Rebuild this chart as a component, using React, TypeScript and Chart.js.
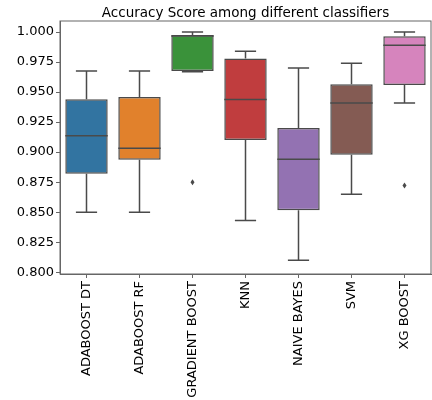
import React, { useEffect, useRef } from "react";
import { Chart, registerables } from "chart.js";

Chart.register(...registerables);

const title = "Accuracy Score among different classifiers";
const categories = ["ADABOOST DT", "ADABOOST RF", "GRADIENT BOOST", "KNN", "NAIVE BAYES", "SVM", "XG BOOST"];
const whiskerLow = [0.850, 0.850, 0.967, 0.843, 0.810, 0.865, 0.941];
const q1 = [0.882, 0.8936, 0.9676, 0.910, 0.8515, 0.8978, 0.956];
const median = [0.9136, 0.9033, 0.9967, 0.9438, 0.894, 0.941, 0.989];
const q3 = [0.944, 0.946, 0.9975, 0.978, 0.920, 0.9565, 0.9964];
const whiskerHigh = [0.9676, 0.9676, 1.000, 0.984, 0.970, 0.974, 1.000];
const outliers: (number | null)[] = [null, null, 0.875, null, null, null, 0.8723];
const yTicks = [0.8, 0.825, 0.85, 0.875, 0.9, 0.925, 0.95, 0.975, 1.0];
const boxColors = ["#3274a1", "#e1812c", "#3a923a", "#c03d3e", "#9372b2", "#845b53", "#d684bd"];

const LINE = "#4a4a4a";

const boxPlugin = {
  id: "boxExtras",
  afterDatasetsDraw(chart: any) {
    const { ctx, scales, chartArea } = chart;
    const x = scales.x;
    const y = scales.y;
    const meta = chart.getDatasetMeta(0);
    ctx.save();
    ctx.strokeStyle = LINE;
    ctx.lineWidth = 1.5;
    categories.forEach((_, i) => {
      const bar = meta.data[i];
      const cx = x.getPixelForValue(i);
      const half = bar.width / 2;
      const capHalf = half / 2;
      const yLo = y.getPixelForValue(whiskerLow[i]);
      const yQ1 = y.getPixelForValue(q1[i]);
      const yQ3 = y.getPixelForValue(q3[i]);
      const yHi = y.getPixelForValue(whiskerHigh[i]);
      const yMed = y.getPixelForValue(median[i]);
      ctx.beginPath();
      ctx.moveTo(cx, yQ1);
      ctx.lineTo(cx, yLo);
      ctx.moveTo(cx - capHalf, yLo);
      ctx.lineTo(cx + capHalf, yLo);
      ctx.moveTo(cx, yQ3);
      ctx.lineTo(cx, yHi);
      ctx.moveTo(cx - capHalf, yHi);
      ctx.lineTo(cx + capHalf, yHi);
      ctx.stroke();
      ctx.beginPath();
      ctx.moveTo(cx - half, yMed);
      ctx.lineTo(cx + half, yMed);
      ctx.stroke();
      const o = outliers[i];
      if (o !== null) {
        const oy = y.getPixelForValue(o);
        ctx.fillStyle = LINE;
        ctx.beginPath();
        ctx.moveTo(cx, oy - 3);
        ctx.lineTo(cx + 2, oy);
        ctx.lineTo(cx, oy + 3);
        ctx.lineTo(cx - 2, oy);
        ctx.closePath();
        ctx.fill();
      }
    });
    ctx.strokeStyle = "#666";
    ctx.lineWidth = 1;
    ctx.strokeRect(chartArea.left, chartArea.top, chartArea.right - chartArea.left, chartArea.bottom - chartArea.top);
    ctx.fillStyle = "#000";
    ctx.font = "13.5px 'DejaVu Sans'";
    ctx.textAlign = "center";
    ctx.textBaseline = "middle";
    ctx.fillText(title, (chartArea.left + chartArea.right) / 2, 13);
    ctx.restore();
  },
};

export default function App() {
  const ref = useRef<HTMLCanvasElement>(null);
  useEffect(() => {
    if (!ref.current) return;
    const chart = new Chart(ref.current, {
      type: "bar",
      data: {
        labels: categories,
        datasets: [
          {
            data: categories.map((_, i) => [q1[i], q3[i]]) as any,
            backgroundColor: boxColors,
            borderColor: LINE,
            borderWidth: 1.5,
            borderSkipped: false,
            barPercentage: 0.8,
            categoryPercentage: 1,
          },
        ],
      },
      options: {
        responsive: false,
        animation: false,
        layout: { padding: { left: 0, right: 1, top: 21, bottom: 0 } },
        plugins: {
          legend: { display: false },
          tooltip: { enabled: false },
          title: { display: false },
        },
        scales: {
          x: {
            grid: { drawOnChartArea: false, drawTicks: true, tickLength: 4, color: "#666", offset: false },
            border: { display: true, color: "#666" },
            ticks: {
              color: "#000",
              font: { family: "DejaVu Sans", size: 13 },
              minRotation: 90,
              maxRotation: 90,
              padding: 3,
            },
            afterFit(scale: any) {
              scale.height = 126;
            },
          },
          y: {
            min: 0.7985,
            max: 1.0092,
            grid: { drawOnChartArea: false, drawTicks: true, tickLength: 4, color: "#666" },
            border: { display: true, color: "#666" },
            afterBuildTicks(scale: any) {
              scale.ticks = yTicks.map((v) => ({ value: v }));
            },
            ticks: {
              color: "#000",
              font: { family: "DejaVu Sans", size: 13 },
              padding: 2,
              callback: (v: any) => Number(v).toFixed(3),
            },
            afterFit(scale: any) {
              scale.width = 60;
            },
          },
        },
      },
      plugins: [boxPlugin],
    });
    return () => chart.destroy();
  }, []);
  return (
    <div style={{ position: "absolute", left: 0, top: 0, width: 432, height: 400, background: "#fff" }}>
      <canvas ref={ref} width={432} height={400} />
    </div>
  );
}
